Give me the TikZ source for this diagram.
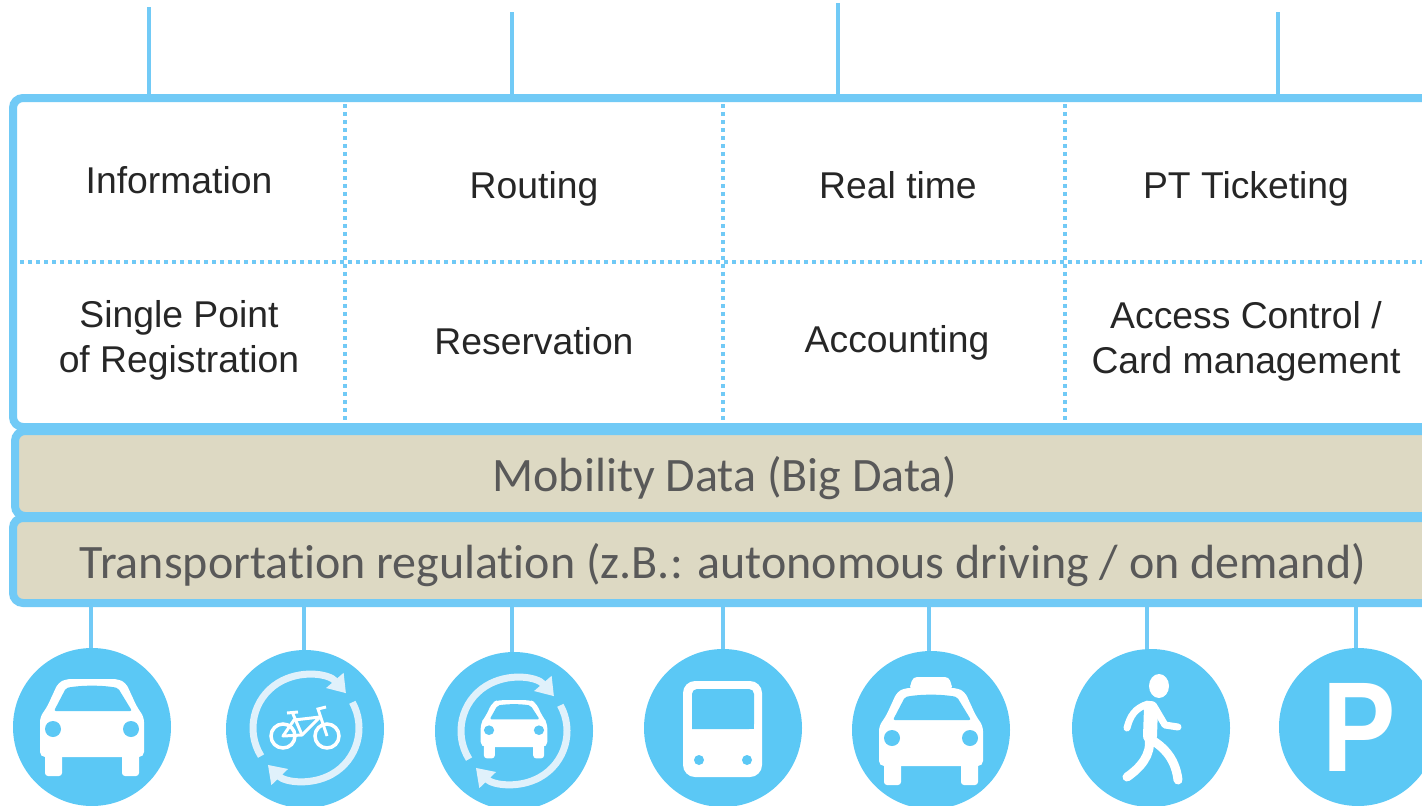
\documentclass[tikz,border=0pt]{standalone}
\usepackage{fontspec}
\setmainfont{Liberation Sans}
\newfontfamily\bandfont[Ligatures=NoCommon]{Carlito}
\usetikzlibrary{arrows.meta}
\definecolor{framecol}{HTML}{71CAF6}
\definecolor{iconcol}{HTML}{5BC8F5}
\definecolor{ringcol}{HTML}{E0F1FB}
\definecolor{bandcol}{HTML}{DDD9C3}
\definecolor{celltext}{HTML}{262626}
\definecolor{bandtext}{HTML}{595959}
\tikzset{
    panel/.style={draw=framecol, line width=8pt, rounded corners=10pt, outer sep=0pt, inner sep=0pt, anchor=north west},
    band/.style={panel, fill=bandcol, text=bandtext, text height=41pt, text depth=5pt, font=\bandfont\fontsize{48}{50}\selectfont},
    cell/.style={align=center, text=celltext, font=\fontsize{37.3}{45}\selectfont, inner sep=0pt},
    divider/.style={framecol, line width=3.5pt, dash pattern=on 3.7pt off 4.3pt},
    link/.style={framecol, line width=4pt},
    badge/.style={circle, fill=iconcol, minimum size=158pt, inner sep=0pt, outer sep=0pt},
    ring/.style={ringcol, line width=7pt, -{Triangle[length=17pt,width=22pt]}},
    caricon/.pic={
        \fill[white, rounded corners=5pt] (-52,30) -- (-52,-10) -- (-45,-20) -- (-34,-44) -- (-26,-48) -- (26,-48) -- (34,-44) -- (45,-20) -- (52,-10) -- (52,30) -- cycle;
        \fill[white, rounded corners=3pt] (-47,25) rectangle (-30,49);
        \fill[white, rounded corners=3pt] (30,25) rectangle (47,49);
        \fill[iconcol, rounded corners=2pt] (-38,-16) -- (-26,-39) .. controls (-10,-42) and (10,-42) .. (26,-39) -- (40,-16) -- cycle;
        \fill[iconcol] (-39,2) circle (8);
        \fill[iconcol] (39,2) circle (8);
    },
    ringicon/.pic={
        \draw[ring] (148:53) arc[start angle=148, end angle=319, radius=53];
        \draw[ring] (331:53) arc[start angle=331, end angle=496, radius=53];
    }
}
\begin{document}
\begin{tikzpicture}[x=1pt, y=-1pt]
    \useasboundingbox (0,0) rectangle (1422,806);
    \fill[white] (0,0) rectangle (1422,806);

    % stacked boxes, all running off the right edge
    \node[panel, minimum width=1440pt, minimum height=329pt] (appbox) at (13,98) {};
    \node[band, minimum width=1420pt, minimum height=85pt] (databox) at (15,431) {Mobility Data (Big Data)};
    \node[band, minimum width=1420pt, minimum height=85pt] (regbox) at (13,518) {Transportation regulation (z.B.: autonomous driving / on demand)};

    \draw[divider] (345,104) -- (345,420);
    \draw[divider] (723,104) -- (723,420);
    \draw[divider] (1065,104) -- (1065,420);
    \draw[divider] (20,262) -- (1422,262);

    \node[cell] (info) at (179,180) {Information};
    \node[cell] (routing) at (534,189) {Routing};
    \node[cell] (realtime) at (898,185) {Real time};
    \node[cell] (ticketing) at (1246,189) {PT Ticketing};
    \node[cell] (registration) at (179,340) {Single Point\\of Registration};
    \node[cell] (reservation) at (534,341) {Reservation};
    \node[cell] (accounting) at (897,343) {Accounting};
    \node[cell] (access) at (1246,341) {Access Control /\\Card management};

    % stubs on top
    \coordinate (stubA) at (149,7);
    \coordinate (stubB) at (512,12);
    \coordinate (stubC) at (838,3);
    \coordinate (stubD) at (1278,12);
    \foreach \s in {stubA,stubB,stubC,stubD}
        \draw[link] (\s) -- (\s |- appbox.north);

    % mode badges
    \node[badge] (car) at (92,727) {};
    \node[badge] (bike) at (305,729) {};
    \node[badge] (share) at (514,731) {};
    \node[badge] (bus) at (723,728) {};
    \node[badge] (taxi) at (931,730) {};
    \node[badge] (walk) at (1151,728) {};
    \node[badge] (park) at (1358,727) {};
    \foreach \m/\d in {car/-1,bike/-1,share/-2,bus/0,taxi/-2,walk/-4,park/-2}
        \draw[link] ([xshift=\d pt]\m.north) -- ([xshift=\d pt]\m.north |- regbox.south);

    \pic at (car) {caricon};

    \pic at (306,728) {ringicon};
    \draw[white, line width=3.5pt] (283,736) circle (12) (327,736) circle (12);
    \draw[white, line width=3pt, line join=round] (283,736) -- (294,720) -- (320,717) -- (302,735) -- cycle;
    \draw[white, line width=3pt] (302,735) -- (293,714) (287,713) -- (298,712) (327,736) -- (318,709) -- (326,707);

    \pic at (514,731) {ringicon};
    \pic[xscale=.64, yscale=.6] at (514,729) {caricon};

    \fill[white, rounded corners=12pt] (683,681) rectangle (762,777);
    \fill[iconcol, rounded corners=5pt] (692,729) -- (692,689) -- (754,689) -- (754,729) [sharp corners] -- cycle;
    \fill[iconcol] (692,722) rectangle (754,729);
    \fill[iconcol] (699,760) circle (5) (747,760) circle (5);

    \pic at (931,736) {caricon};
    \fill[white, rounded corners=4pt] (909,690) -- (913,677) -- (949,677) -- (953,690) -- cycle;

    \fill[white] (1159,686) ellipse (10 and 12);
    \draw[white, line width=14pt, line cap=round] (1151,708) -- (1150,736);
    \draw[white, line width=7pt, line cap=round, line join=round] (1148,704) .. controls (1135,708) and (1130,716) .. (1127,728);
    \draw[white, line width=7pt, line cap=round, line join=round] (1155,708) -- (1165,725) -- (1178,727);
    \draw[white, line width=9pt, line cap=round, line join=round] (1149,738) .. controls (1160,745) and (1175,755) .. (1178,780);
    \draw[white, line width=9pt, line cap=round, line join=round] (1149,738) .. controls (1152,755) and (1140,768) .. (1127,777);

    \node[text=white, inner sep=0pt, xscale=.86, font=\bfseries\fontsize{128}{128}\selectfont] (parkmark) at (1359,727) {P};
\end{tikzpicture}
\end{document}
